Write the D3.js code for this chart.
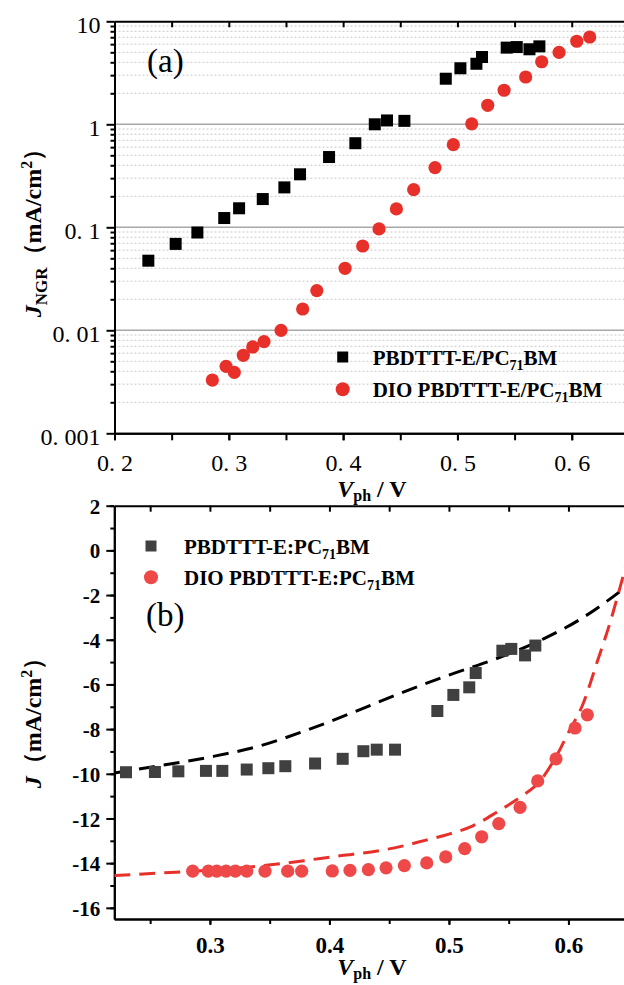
<!DOCTYPE html>
<html><head><meta charset="utf-8">
<script src="https://cdn.jsdelivr.net/npm/d3@7"></script>
<style>
body{margin:0;background:#fff}
svg{display:block}
svg text{font-family:"Liberation Serif","Times New Roman","DejaVu Serif",serif !important;fill:#000}
</style>
</head><body>
<svg id="c" width="624" height="985"></svg>
<script>
// ---------- DATA ----------
// Panel (a): J_NGR vs V_ph (log scale)
const aBlackV = [0.2296,0.2535,0.2725,0.296,0.309,0.3297,0.3486,0.3623,0.3877,0.4107,0.4277,0.4384,0.4536,0.4898,0.5026,0.5166,0.5215,0.5431,0.5519,0.563,0.5717];
const aBlackJ = [0.0474,0.069,0.089,0.123,0.153,0.188,0.244,0.327,0.481,0.655,1.0,1.09,1.08,2.77,3.50,3.87,4.5,5.55,5.62,5.35,5.71];
const aRedV = [0.2856,0.2976,0.3048,0.3127,0.3209,0.3308,0.3457,0.3646,0.377,0.4017,0.4171,0.4314,0.4466,0.4617,0.4804,0.4964,0.5125,0.5265,0.5408,0.5597,0.5737,0.5889,0.6044,0.6157];
const aRedJ = [0.00329,0.00447,0.00391,0.00572,0.00689,0.00776,0.0100,0.0161,0.0243,0.040,0.0658,0.0964,0.1507,0.232,0.38,0.634,1.01,1.53,2.14,2.88,4.05,5.0,6.4,7.04];
const aSeriesNames = ["PBDTTT-E/PC", "DIO PBDTTT-E/PC"];
const aXTicks = [0.2,0.3,0.4,0.5,0.6];
const aXTickLabels = ["0. 2","0. 3","0. 4","0. 5","0. 6"];
const aYTicks = [0.001,0.01,0.1,1,10];
const aYTickLabels = ["0. 001","0. 01","0. 1","1","10"];

// Panel (b): J vs V_ph
const bGreyV = [0.2298,0.254,0.2736,0.2967,0.3104,0.3308,0.3489,0.3631,0.388,0.4111,0.4284,0.4396,0.4549,0.4903,0.5037,0.517,0.5224,0.5447,0.5522,0.5637,0.5723];
const bGreyJ = [-9.93,-9.92,-9.89,-9.87,-9.87,-9.81,-9.75,-9.66,-9.54,-9.33,-8.99,-8.92,-8.92,-7.19,-6.47,-6.13,-5.49,-4.49,-4.41,-4.70,-4.26];
const bRedV = [0.2856,0.2987,0.3057,0.3135,0.3213,0.3308,0.3461,0.3651,0.3768,0.4024,0.4172,0.4326,0.4474,0.4627,0.4814,0.4973,0.5132,0.5274,0.5417,0.5595,0.5743,0.5896,0.6055,0.6158];
const bRedJ = [-14.36,-14.36,-14.36,-14.36,-14.36,-14.36,-14.36,-14.36,-14.36,-14.35,-14.32,-14.29,-14.21,-14.11,-13.99,-13.72,-13.35,-12.82,-12.23,-11.50,-10.32,-9.33,-7.95,-7.36];
// dashed fit curves
const bFitBlackV = [0.22,0.26,0.30,0.34,0.38,0.42,0.46,0.50,0.54,0.58,0.61,0.63,0.645,0.65];
const bFitBlackJ = [-9.96,-9.62,-9.25,-8.78,-8.07,-7.25,-6.38,-5.58,-4.84,-3.94,-3.08,-2.36,-1.76,-1.55];
const bFitRedV = [0.22,0.26,0.30,0.34,0.38,0.41,0.435,0.46,0.48,0.50,0.52,0.54,0.56,0.575,0.59,0.60,0.612,0.624,0.635,0.645,0.65];
const bFitRedJ = [-14.55,-14.44,-14.32,-14.14,-13.88,-13.66,-13.5,-13.25,-12.98,-12.7,-12.33,-11.72,-11.03,-10.4,-9.2,-8.15,-6.9,-5.0,-3.2,-1.3,-0.3];
const bSeriesNames = ["PBDTTT-E:PC", "DIO PBDTTT-E:PC"];
const bXTicks = [0.3,0.4,0.5,0.6];
const bXTickLabels = ["0.3","0.4","0.5","0.6"];
const bYTicks = [2,0,-2,-4,-6,-8,-10,-12,-14,-16];
const bYTickLabels = ["2","0","-2","-4","-6","-8","-10","-12","-14","-16"];

// ---------- DRAW ----------
const svg = d3.select("#c");
const RED_A = "#e8302a", RED_B = "#ef4848", GREY = "#404040";

// ===== Panel (a) =====
const ax = d3.scaleLinear().domain([0.2,0.65]).range([114.5,628.9]);
const ay = d3.scaleLog().domain([0.001,10]).range([433.3,21.3]);
const aL = ax.range()[0], aR = ax.range()[1], aT = ay.range()[1], aB = ay.range()[0];

const aMinor = [];
[0.001,0.01,0.1,1].forEach(d=>{for(let k=2;k<=9;k++) aMinor.push(d*k);});
const aMajorGrid = [0.01,0.1,1];

const ga = svg.append("g");
ga.selectAll("line.minor").data(aMinor).join("line")
  .attr("x1",aL).attr("x2",aR).attr("y1",d=>ay(d)).attr("y2",d=>ay(d))
  .attr("stroke","#c8c8c8").attr("stroke-width",1).attr("stroke-dasharray","2,2");
ga.selectAll("line.major").data(aMajorGrid).join("line")
  .attr("x1",aL).attr("x2",aR).attr("y1",d=>ay(d)).attr("y2",d=>ay(d))
  .attr("stroke","#a8a8a8").attr("stroke-width",1.5);

function styleAxis(g, w){
  g.attr("font-family",null);
  g.select(".domain").attr("stroke","#000").attr("stroke-width",w);
  g.selectAll(".tick line").attr("stroke","#000").attr("stroke-width",w);
}
const aXMinorTicks = d3.range(0.2,0.651,0.05).map(d=>+d.toFixed(2));
// bottom axis
let g = svg.append("g").attr("transform",`translate(0,${aB})`)
  .call(d3.axisBottom(ax).tickValues(aXMinorTicks).tickSize(7).tickSizeOuter(0).tickFormat(()=>""));
styleAxis(g,2);
g = svg.append("g").attr("transform",`translate(0,${aB})`)
  .call(d3.axisBottom(ax).tickValues(aXTicks).tickSize(7).tickSizeOuter(0).tickPadding(14)
    .tickFormat((d,i)=>aXTickLabels[i]));
styleAxis(g,2);
g.selectAll("text").attr("font-size",24);
// top axis
g = svg.append("g").attr("transform",`translate(0,${aT})`)
  .call(d3.axisBottom(ax).tickValues(aXMinorTicks).tickSize(6).tickSizeOuter(0).tickFormat(()=>""));
styleAxis(g,2);
// left axis
g = svg.append("g").attr("transform",`translate(${aL},0)`)
  .call(d3.axisLeft(ay).tickValues(aMinor).tickSize(4).tickSizeOuter(0).tickFormat(()=>""));
styleAxis(g,2);
g = svg.append("g").attr("transform",`translate(${aL},0)`)
  .call(d3.axisLeft(ay).tickValues(aYTicks).tickSize(8).tickSizeOuter(0).tickPadding(6)
    .tickFormat((d,i)=>aYTickLabels[i]));
styleAxis(g,2);
g.selectAll("text").attr("font-size",24).attr("dy","0.45em");
// right axis
g = svg.append("g").attr("transform",`translate(${aR},0)`)
  .call(d3.axisLeft(ay).tickValues(aYTicks).tickSize(-7).tickSizeOuter(0).tickFormat(()=>""));
styleAxis(g,2);

// data (a)
ga.selectAll("rect.pt").data(aBlackV.map((v,i)=>[v,aBlackJ[i]])).join("rect")
  .attr("x",d=>ax(d[0])-6).attr("y",d=>ay(d[1])-6).attr("width",12).attr("height",12)
  .attr("fill","#000");
svg.append("g").selectAll("circle").data(aRedV.map((v,i)=>[v,aRedJ[i]])).join("circle")
  .attr("cx",d=>ax(d[0])).attr("cy",d=>ay(d[1])).attr("r",6.6).attr("fill",RED_A);

// label (a)
svg.append("text").attr("x",147).attr("y",72).attr("font-size",33).text("(a)");

// legend (a)
function legendText(x,y,name){
  const t = svg.append("text").attr("x",x).attr("y",y).attr("font-size",21).attr("font-weight","bold");
  t.append("tspan").text(name);
  t.append("tspan").attr("dy",5).attr("font-size",14).text("71");
  t.append("tspan").attr("dy",-5).text("BM");
}
svg.append("rect").attr("x",342.7-5.5).attr("y",357-5.5).attr("width",11).attr("height",11).attr("fill","#000");
legendText(372.7,364.5,aSeriesNames[0]);
svg.append("circle").attr("cx",342.7).attr("cy",389.3).attr("r",7).attr("fill",RED_A);
legendText(372.7,396.5,aSeriesNames[1]);

// axis titles
function xTitle(cx,y){
  const t = svg.append("text").attr("x",cx).attr("y",y).attr("text-anchor","middle")
    .attr("font-size",24).attr("font-weight","bold");
  t.append("tspan").attr("font-style","italic").text("V");
  t.append("tspan").attr("dy",4).attr("font-size",16).text("ph");
  t.append("tspan").attr("dy",-4).text(" / V");
}
xTitle(372,497);
const yt1 = svg.append("text").attr("transform","translate(41,227) rotate(-90)")
  .attr("text-anchor","middle").attr("font-size",24).attr("font-weight","bold");
yt1.append("tspan").attr("font-style","italic").text("J");
yt1.append("tspan").attr("dy",6).attr("font-size",17).text("NGR");
yt1.append("tspan").attr("dy",-6).text("（mA/cm");
yt1.append("tspan").attr("dy",-9).attr("font-size",16).text("2");
yt1.append("tspan").attr("dy",9).text("）");

// ===== Panel (b) =====
const bx = d3.scaleLinear().domain([0.22,0.65]).range([114.3,628.2]);
const by = d3.scaleLinear().domain([-16.5,2]).range([919,505.7]);
const bL = bx.range()[0], bR = bx.range()[1], bT = by.range()[1], bB = by.range()[0];

svg.append("defs").append("clipPath").attr("id","clipb").append("rect")
  .attr("x",bL).attr("y",bT).attr("width",bR-bL).attr("height",bB-bT);

const bXMinorTicks = d3.range(0.25,0.651,0.05).map(d=>+d.toFixed(2));
const bYMinorTicks = d3.range(-16,2.01,1);
g = svg.append("g").attr("transform",`translate(0,${bB})`)
  .call(d3.axisBottom(bx).tickValues(bXMinorTicks).tickSize(5).tickSizeOuter(0).tickFormat(()=>""));
styleAxis(g,2);
g = svg.append("g").attr("transform",`translate(0,${bB})`)
  .call(d3.axisBottom(bx).tickValues(bXTicks).tickSize(6).tickSizeOuter(0).tickPadding(12)
    .tickFormat((d,i)=>bXTickLabels[i]));
styleAxis(g,2);
g.selectAll("text").attr("font-size",23).attr("font-weight","bold");
g = svg.append("g").attr("transform",`translate(0,${bT})`)
  .call(d3.axisBottom(bx).tickValues(bXMinorTicks).tickSize(6).tickSizeOuter(0).tickFormat(()=>""));
styleAxis(g,2);
g = svg.append("g").attr("transform",`translate(${bL},0)`)
  .call(d3.axisLeft(by).tickValues(bYMinorTicks).tickSize(4).tickSizeOuter(0).tickFormat(()=>""));
styleAxis(g,2);
g = svg.append("g").attr("transform",`translate(${bL},0)`)
  .call(d3.axisLeft(by).tickValues(bYTicks).tickSize(8).tickSizeOuter(0).tickPadding(6)
    .tickFormat((d,i)=>bYTickLabels[i]));
styleAxis(g,2);
g.selectAll("text").attr("font-size",21).attr("font-weight","bold").attr("dy","0.36em");
g = svg.append("g").attr("transform",`translate(${bR},0)`)
  .call(d3.axisLeft(by).tickValues(bYTicks).tickSize(-7).tickSizeOuter(0).tickFormat(()=>""));
styleAxis(g,2);

// fits
const line = d3.line().x(d=>bx(d[0])).y(d=>by(d[1])).curve(d3.curveMonotoneX);
const gb = svg.append("g").attr("clip-path","url(#clipb)");
gb.append("path").datum(bFitBlackV.map((v,i)=>[v,bFitBlackJ[i]])).attr("d",line)
  .attr("fill","none").attr("stroke","#000").attr("stroke-width",3).attr("stroke-dasharray","16,9");
gb.append("path").datum(bFitRedV.map((v,i)=>[v,bFitRedJ[i]])).attr("d",line)
  .attr("fill","none").attr("stroke",RED_A).attr("stroke-width",3).attr("stroke-dasharray","16,9");
// points
gb.selectAll("rect.g").data(bGreyV.map((v,i)=>[v,bGreyJ[i]])).join("rect")
  .attr("x",d=>bx(d[0])-6).attr("y",d=>by(d[1])-6).attr("width",12).attr("height",12).attr("fill",GREY);
gb.selectAll("circle.r").data(bRedV.map((v,i)=>[v,bRedJ[i]])).join("circle")
  .attr("cx",d=>bx(d[0])).attr("cy",d=>by(d[1])).attr("r",6.6).attr("fill",RED_B);

// legend (b)
svg.append("rect").attr("x",151-5.5).attr("y",546-5.5).attr("width",11).attr("height",11).attr("fill",GREY);
legendText(184,553.5,bSeriesNames[0]);
svg.append("circle").attr("cx",151).attr("cy",577.3).attr("r",7).attr("fill",RED_B);
legendText(184,584.5,bSeriesNames[1]);

svg.append("text").attr("x",146).attr("y",626).attr("font-size",33).text("(b)");

xTitle(372,975);
const yt2 = svg.append("text").attr("transform","translate(41,717) rotate(-90)")
  .attr("text-anchor","middle").attr("font-size",24).attr("font-weight","bold");
yt2.append("tspan").attr("font-style","italic").text("J");
yt2.append("tspan").text("（mA/cm");
yt2.append("tspan").attr("dy",-9).attr("font-size",16).text("2");
yt2.append("tspan").attr("dy",9).text("）");
</script>
</body></html>
